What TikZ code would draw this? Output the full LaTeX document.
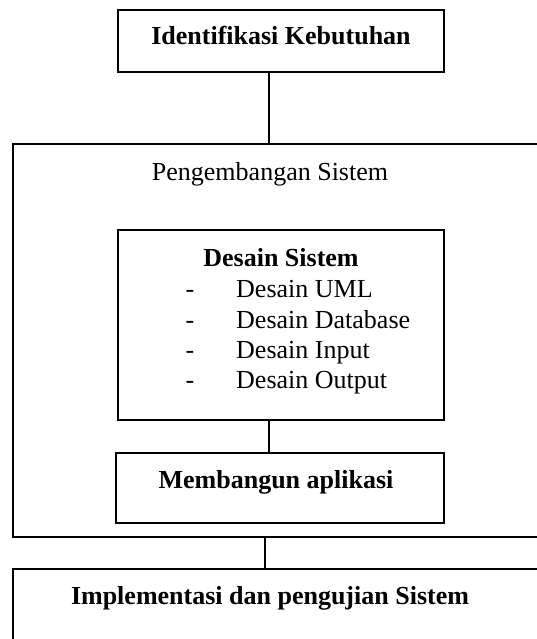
\documentclass[tikz,border=0pt]{standalone}
\usepackage{fontspec}
\setmainfont{Liberation Serif}
\begin{document}
\begin{tikzpicture}[x=1pt,y=-1pt,
  thinbox/.style={draw=black,line width=1.3pt,rectangle,inner sep=0pt},
  bigbox/.style={draw=black,line width=1.6pt,rectangle,inner sep=0pt},
  conn/.style={draw=black,line width=1.3pt},
  txt/.style={inner sep=0pt,anchor=base,font=\fontsize{26}{30}\selectfont},
  btxt/.style={txt,font=\fontsize{26}{30}\selectfont\bfseries}]
\useasboundingbox (0,0) rectangle (537,639);
\clip (0,0) rectangle (537,639);
\fill[white] (0,0) rectangle (537,639);
% boxes
\node[thinbox,minimum width=326pt,minimum height=62pt] (ident) at (281,41) {};
\node[bigbox,minimum width=540pt,minimum height=393pt] (peng) at (283,340.5) {};
\node[thinbox,minimum width=326pt,minimum height=190pt] (desain) at (281,325) {};
\node[thinbox,minimum width=328pt,minimum height=70pt] (bangun) at (280,488) {};
\node[bigbox,minimum width=540pt,minimum height=100pt] (impl) at (283,619) {};
% texts
\node[btxt] (tident) at (281,45) {Identifikasi Kebutuhan};
\node[txt] (tpeng) at (270,181) {Pengembangan Sistem};
\node[btxt] (tdesain) at (281,266) {Desain Sistem};
\foreach \i/\y/\t in {1/297/Desain UML,2/328/Desain Database,3/358/Desain Input,4/388/Desain Output}{
  \node[txt] (dash\i) at (190,\y) {-};
  \node[txt,anchor=base west] (item\i) at (236,\y) {\t};
}
\node[btxt] (tbangun) at (276,488) {Membangun aplikasi};
\node[btxt] (timpl) at (270,604) {Implementasi dan pengujian Sistem};
% connectors
\draw[conn] (ident.south -| 269,0) -- (peng.north -| 269,0);
\draw[conn] (desain.south -| 269,0) -- (bangun.north -| 269,0);
\draw[conn] (peng.south -| 265,0) -- (impl.north -| 265,0);
\end{tikzpicture}
\end{document}
